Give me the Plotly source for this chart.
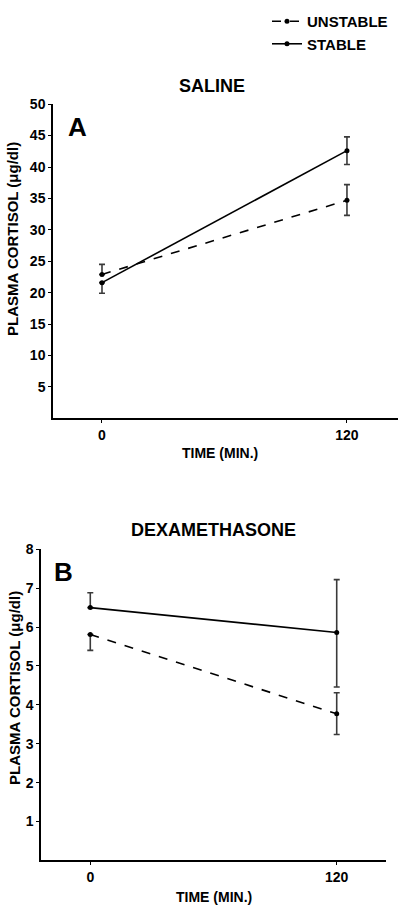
import plotly.graph_objects as go

time_min = [0, 120]

# Panel A - Saline
saline_unstable = [22.9, 34.7]
saline_unstable_err_plus = [1.6, 2.5]
saline_unstable_err_minus = [0.0, 2.4]
saline_stable = [21.6, 42.6]
saline_stable_err_plus = [0.0, 2.2]
saline_stable_err_minus = [1.7, 2.2]

# Panel B - Dexamethasone
dexa_unstable = [5.81, 3.77]
dexa_unstable_err_plus = [0.0, 0.54]
dexa_unstable_err_minus = [0.41, 0.53]
dexa_stable = [6.5, 5.86]
dexa_stable_err_plus = [0.38, 1.36]
dexa_stable_err_minus = [0.0, 1.40]

yticks_a = [5, 10, 15, 20, 25, 30, 35, 40, 45, 50]
yticks_b = [1, 2, 3, 4, 5, 6, 7, 8]
xticks = [0, 120]

FONT = "Liberation Sans, Arial, sans-serif"
ERRC = "#3a3a3a"

def trace(x, y, ep, em, dash, name, xa, ya, show):
    return go.Scatter(
        x=x, y=y, mode="lines+markers", name=name, showlegend=show,
        xaxis=xa, yaxis=ya,
        line=dict(color="black", width=1.6, dash=dash),
        marker=dict(color="black", size=5),
        error_y=dict(type="data", symmetric=False, array=ep, arrayminus=em,
                     color=ERRC, thickness=1.6, width=3),
    )

fig = go.Figure()
fig.add_trace(trace(time_min, saline_unstable, saline_unstable_err_plus, saline_unstable_err_minus,
                    "dash", "UNSTABLE", "x", "y", True))
fig.add_trace(trace(time_min, saline_stable, saline_stable_err_plus, saline_stable_err_minus,
                    "solid", "STABLE", "x", "y", True))
fig.add_trace(trace(time_min, dexa_unstable, dexa_unstable_err_plus, dexa_unstable_err_minus,
                    "dash", "UNSTABLE", "x2", "y2", False))
fig.add_trace(trace(time_min, dexa_stable, dexa_stable_err_plus, dexa_stable_err_minus,
                    "solid", "STABLE", "x2", "y2", False))

W, H = 400, 916

def fx(px):
    return px / W

def fy(py):
    return 1 - py / H

def px_x(a, b):
    return [fx(a), fx(b)]

def px_y(top, bottom):
    return [fy(bottom), fy(top)]

tickfont = dict(family=FONT, size=14, color="black", weight="bold")
axis_common = dict(showline=True, linecolor="black", linewidth=1.5, ticks="outside",
                   ticklen=3, tickwidth=1.2, tickcolor="black", showgrid=False,
                   zeroline=False, tickfont=tickfont)

fig.update_layout(
    width=W, height=H, margin=dict(l=0, r=0, t=0, b=0),
    paper_bgcolor="white", plot_bgcolor="white",
    font=dict(family=FONT, color="black"),
    xaxis=dict(domain=px_x(53, 398), range=[-24, 145], tickvals=xticks,
               anchor="y", **axis_common),
    yaxis=dict(domain=px_y(97, 414), range=[0, 50], tickvals=yticks_a,
               anchor="x", **axis_common),
    xaxis2=dict(domain=px_x(41, 386), range=[-24, 144], tickvals=xticks,
                anchor="y2", **axis_common),
    yaxis2=dict(domain=px_y(546, 860), range=[0, 8], tickvals=yticks_b,
                anchor="x2", **axis_common),
    legend=dict(x=fx(267), y=fy(-3), xanchor="left", yanchor="top",
                font=dict(family=FONT, size=15, color="black", weight="bold"),
                bgcolor="rgba(0,0,0,0)", tracegroupgap=0, itemwidth=30),
    showlegend=True,
)

def ann(text, x, y, size, angle=0):
    fig.add_annotation(text=text, x=fx(x), y=fy(y), xref="paper", yref="paper",
                       showarrow=False, textangle=angle, xanchor="center", yanchor="middle",
                       font=dict(family=FONT, size=size, color="black", weight="bold"))

ann("SALINE", 212, 79, 18)
ann("DEXAMETHASONE", 213, 527, 18)
ann("A", 77, 120, 26)
ann("B", 63, 569, 26)
ann("TIME (MIN.)", 220, 449, 14)
ann("TIME (MIN.)", 214, 897, 14)
ann("PLASMA CORTISOL (μg/dl)", 13, 233, 15, -90)
ann("PLASMA CORTISOL (μg/dl)", 14, 686, 15, -90)

fig.write_html("out.html", config={"displayModeBar": False},
               post_script="document.body.style.margin='0';")
